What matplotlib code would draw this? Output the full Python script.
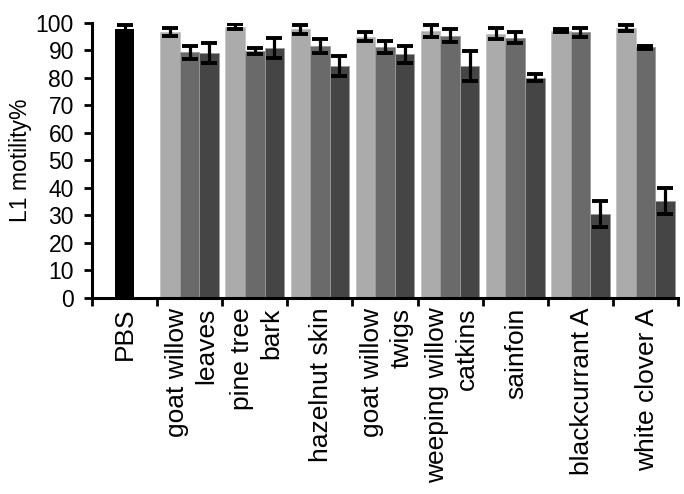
import numpy as np
import matplotlib
matplotlib.use("Agg")
import matplotlib.pyplot as plt
import matplotlib.transforms as mtransforms

plt.rcParams['font.family'] = ['Liberation Sans', 'DejaVu Sans']

# data: control + 8 extracts, three concentrations each (light, mid, dark)
pbs_val, pbs_err = 97.7, 1.4
group_labels = [["goat willow", "leaves"], ["pine tree", "bark"], ["hazelnut skin"],
                ["goat willow", "twigs"], ["weeping willow", "catkins"], ["sainfoin"],
                ["blackcurrant A"], ["white clover A"]]
light = [96.5, 98.6, 97.6, 94.9, 97.1, 95.9, 97.1, 98.0]
light_err = [1.4, 1.0, 1.7, 1.6, 2.2, 2.0, 0.6, 1.0]
mid = [89.2, 89.8, 91.5, 91.1, 95.3, 94.6, 96.5, 91.1]
mid_err = [2.4, 1.1, 2.4, 2.1, 2.4, 2.1, 1.7, 0.5]
dark = [88.9, 90.7, 84.3, 88.6, 84.3, 80.0, 30.5, 35.2]
dark_err = [3.6, 3.7, 3.6, 3.1, 5.3, 1.2, 4.6, 4.7]
yticks = list(range(0, 101, 10))

colors = ["#ababab", "#6a6a6a", "#454545"]

fig = plt.figure(figsize=(6.84, 4.94), dpi=100)
ax = fig.add_axes([92/684, 196/494, 586/684, 275.3/494])

w = 0.3
ekw = dict(ecolor="black", elinewidth=2.3, capsize=6, capthick=2.8, fmt="none")
ax.bar(0, pbs_val, width=w, color="black", zorder=2)
ax.errorbar(0, pbs_val, yerr=pbs_err, zorder=3, **ekw)

x = np.arange(1, len(light) + 1)
for off, vals, errs, c in zip([-w, 0, w], [light, mid, dark],
                              [light_err, mid_err, dark_err], colors):
    ax.bar(x + off, vals, width=w, color=c, edgecolor="#9a9a9a" if c != colors[0] else "#c4c4c4",
           linewidth=0.6, zorder=2)
    ax.errorbar(x + off, vals, yerr=errs, zorder=3, **ekw)

ax.set_xlim(-0.5, len(light) + 0.5)
ax.set_ylim(0, 100)
ax.set_yticks(yticks)
ax.set_yticklabels([str(t) for t in yticks], fontsize=16.5)
ax.set_xticks(np.arange(-0.5, len(light) + 1, 1))
ax.set_xticklabels([])
ax.tick_params(axis="both", direction="out", width=2, length=6, color="black")
ax.tick_params(axis="y", pad=7)
for s in ["top", "right"]:
    ax.spines[s].set_visible(False)
for s in ["left", "bottom"]:
    ax.spines[s].set_linewidth(2.2)
ax.set_ylabel("L1 motility%", fontsize=16.5, labelpad=3)

# group labels, rotated, hanging below the axis
trans = mtransforms.blended_transform_factory(ax.transData, ax.transAxes)
ax.text(0, -0.035, "PBS", rotation=90, ha="center", va="top", fontsize=19,
        transform=trans)
for xi, lines in zip(x, group_labels):
    if len(lines) == 1:
        offs = [0.02]
    else:
        offs = [-0.2, 0.26]
    for o, s in zip(offs, lines):
        ax.text(xi + o, -0.035, s, rotation=90, ha="center", va="top",
                fontsize=19, transform=trans)

fig.savefig("out.png", dpi=100)
